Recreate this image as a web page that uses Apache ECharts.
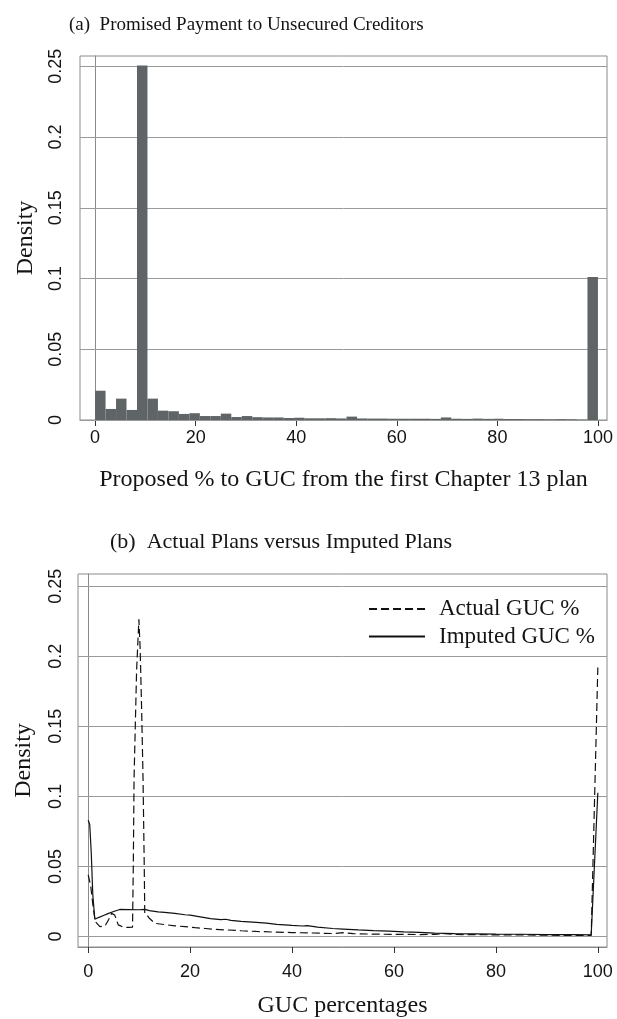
<!DOCTYPE html>
<html><head><meta charset="utf-8">
<script src="https://cdn.jsdelivr.net/npm/echarts@6/dist/echarts.min.js"></script>
<style>html,body{margin:0;padding:0;background:#fff}#c{width:617px;height:1019px}</style>
</head><body><div id="c"></div>
<script>
// ---------- data ----------
const histBinCount = 48;
const histStart = 0;
const histEnd = 100;
const histDensity = [
  0.0207, 0.0078, 0.0151, 0.0071, 0.2505, 0.0151, 0.0066, 0.0062,
  0.0043, 0.0048, 0.0028, 0.0028, 0.0045, 0.0021, 0.0028, 0.0020,
  0.0018, 0.0018, 0.0014, 0.0016, 0.0012, 0.0012, 0.0013, 0.0011,
  0.0024, 0.0011, 0.0010, 0.0010, 0.0009, 0.0009, 0.0009, 0.0009,
  0.0008, 0.0018, 0.0009, 0.0008, 0.0010, 0.0008, 0.0009, 0.0007,
  0.0007, 0.0006, 0.0006, 0.0005, 0.0006, 0.0005, 0.0003, 0.1010
];
const actualPoints = [
  [0,0.044],[0.5,0.036],[1.0,0.020],[1.4,0.0106],[2.3,0.0071],[3.3,0.0075],[4.0,0.012],
  [4.6,0.0165],[5.2,0.0153],[5.9,0.0083],[6.9,0.0066],[8.0,0.0065],[8.7,0.0066],
  [8.85,0.05],[9.0,0.113],[9.5,0.19],[9.95,0.2264],[10.2,0.205],[10.5,0.16],[10.76,0.113],
  [11.0,0.05],[11.1,0.0165],[11.6,0.0150],[12.0,0.013],[13.1,0.0094],[15,0.0085],
  [17,0.0076],[19,0.0070],[21,0.0063],[23,0.0057],[25,0.0051],[27,0.0047],[30,0.0041],
  [33,0.0036],[36,0.0032],[40,0.0028],[44,0.0025],[48,0.0021],[50,0.0027],[52,0.0020],
  [56,0.0017],[60,0.0015],[65,0.0014],[68,0.0015],[70,0.0021],[72,0.0015],[75,0.0013],
  [80,0.0012],[85,0.0011],[90,0.0009],[95,0.0008],[98.7,0.0008],[100,0.192]
];
const imputedPoints = [
  [0,0.083],[0.3,0.080],[0.6,0.060],[0.9,0.030],[1.3,0.0123],[2,0.0135],[3,0.015],
  [4,0.0165],[5,0.0178],[6.2,0.0193],[8,0.0192],[10,0.0191],[11.1,0.0193],[12,0.0185],
  [13.7,0.0176],[15,0.0172],[17,0.0165],[19,0.0155],[20,0.0152],[22,0.0140],[24,0.0128],
  [26,0.0120],[27,0.0123],[28,0.0115],[30,0.0108],[33,0.0101],[35,0.0095],[37,0.0086],
  [40,0.0079],[42,0.0075],[43,0.0077],[45,0.0067],[48,0.0057],[50,0.0053],[53,0.0047],
  [56,0.0042],[59,0.0038],[62,0.0033],[65,0.0029],[68,0.0024],[72,0.0021],[76,0.0019],
  [80,0.0017],[85,0.0016],[90,0.0014],[95,0.0013],[98.7,0.0012],[100,0.1026]
];
const xTicks = [0, 20, 40, 60, 80, 100];
const yTicks = [0, 0.05, 0.1, 0.15, 0.2, 0.25];
const titleA = '(a)  Promised Payment to Unsecured Creditors';
const titleB = '(b)  Actual Plans versus Imputed Plans';
const xNameA = 'Proposed % to GUC from the first Chapter 13 plan';
const xNameB = 'GUC percentages';
const yName = 'Density';
const seriesNames = ['Actual GUC %', 'Imputed GUC %'];

// ---------- chart ----------
const serif = 'Liberation Serif';
const sans = 'Liberation Sans';
const txt = '#141414';
const boxColor = '#8a8a8a';
const gridColor = '#9a9a9a';

const binW = (histEnd - histStart) / histBinCount;
const histData = histDensity.map((v, i) => [histStart + i * binW, histStart + (i + 1) * binW, v]);

function xAxisCfg(gi, min, max, name, gap, labelMargin) {
  return {
    type: 'value', gridIndex: gi, min: min, max: max,
    axisLine: { show: true, onZero: false, lineStyle: { color: boxColor, width: 1 } },
    splitLine: { show: false },
    axisTick: { show: true, customValues: xTicks, length: 6, lineStyle: { color: '#333', width: 1 } },
    axisLabel: { customValues: xTicks, fontFamily: sans, fontSize: 18, color: txt, margin: labelMargin },
    name: name, nameLocation: 'middle', nameGap: gap,
    nameTextStyle: { fontFamily: serif, fontSize: 24, color: txt }
  };
}
function yAxisCfg(gi, min, max, labelMargin) {
  return {
    type: 'value', gridIndex: gi, min: min, max: max,
    axisLine: { show: true, lineStyle: { color: boxColor, width: 1 } },
    splitLine: { show: false },
    axisTick: { show: true, customValues: yTicks, length: 5, lineStyle: { color: '#333', width: 1 } },
    axisLabel: { customValues: yTicks, rotate: 90, fontFamily: sans, fontSize: 18, color: txt, margin: labelMargin },
    name: yName, nameLocation: 'middle', nameRotate: 90, nameGap: 42,
    nameTextStyle: { fontFamily: serif, fontSize: 24, color: txt }
  };
}
const gridLines = (gi) => ({
  type: 'line', xAxisIndex: gi, yAxisIndex: gi, data: [], silent: true,
  markLine: {
    silent: true, symbol: ['none', 'none'], z: 1,
    label: { show: false },
    lineStyle: { color: gridColor, width: 1, type: 'solid' },
    emphasis: { disabled: true },
    data: yTicks.map(v => ({ yAxis: v }))
  }
});

const chart = echarts.init(document.getElementById('c'), null, { renderer: 'canvas' });
chart.setOption({
  animation: false,
  backgroundColor: '#fff',
  title: [
    { text: titleA, left: 64, top: 11, textStyle: { fontFamily: serif, fontSize: 19, fontWeight: 'normal', color: txt } },
    { text: titleB, left: 105, top: 526, textStyle: { fontFamily: serif, fontSize: 22, fontWeight: 'normal', color: txt } }
  ],
  grid: [
    { left: 80, top: 56, width: 527, height: 364, show: true, borderColor: boxColor, borderWidth: 1, backgroundColor: 'transparent' },
    { left: 78, top: 574, width: 529, height: 378, show: true, borderColor: boxColor, borderWidth: 1, backgroundColor: 'transparent' }
  ],
  xAxis: [
    xAxisCfg(0, -3, 101.8, xNameA, 48, 9),
    xAxisCfg(1, -2, 101.8, xNameB, 47, 16)
  ],
  yAxis: [
    yAxisCfg(0, 0, 0.2573, 15),
    yAxisCfg(1, -0.0075, 0.2587, 13)
  ],
  legend: {
    data: seriesNames, orient: 'vertical', left: 363, top: 592,
    itemWidth: 56, itemHeight: 14, itemGap: 3.5,
    itemStyle: { opacity: 0 },
    textStyle: { fontFamily: serif, fontSize: 23, color: txt, lineHeight: 24, padding: [0, 0, 0, 9] },
    selectedMode: false
  },
  series: [
    gridLines(0),
    {
      type: 'custom', xAxisIndex: 0, yAxisIndex: 0, data: histData, z: 3,
      encode: { x: [0, 1], y: 2 },
      renderItem: function (params, api) {
        const p0 = api.coord([api.value(0), api.value(2)]);
        const p1 = api.coord([api.value(1), 0]);
        return { type: 'rect', shape: { x: p0[0], y: p0[1], width: p1[0] - p0[0], height: p1[1] - p0[1] },
          style: { fill: '#5f6466' } };
      }
    },
    gridLines(1),
    {
      name: seriesNames[0], type: 'line', xAxisIndex: 1, yAxisIndex: 1, data: actualPoints, z: 3,
      symbol: 'none', showSymbol: false,
      lineStyle: { color: '#111', width: 1.2, type: [8, 4] }, itemStyle: { color: '#111' }
    },
    {
      name: seriesNames[1], type: 'line', xAxisIndex: 1, yAxisIndex: 1, data: imputedPoints, z: 3,
      symbol: 'none', showSymbol: false,
      lineStyle: { color: '#111', width: 1.2, type: 'solid' }, itemStyle: { color: '#111' }
    }
  ]
});
</script>
</body></html>
